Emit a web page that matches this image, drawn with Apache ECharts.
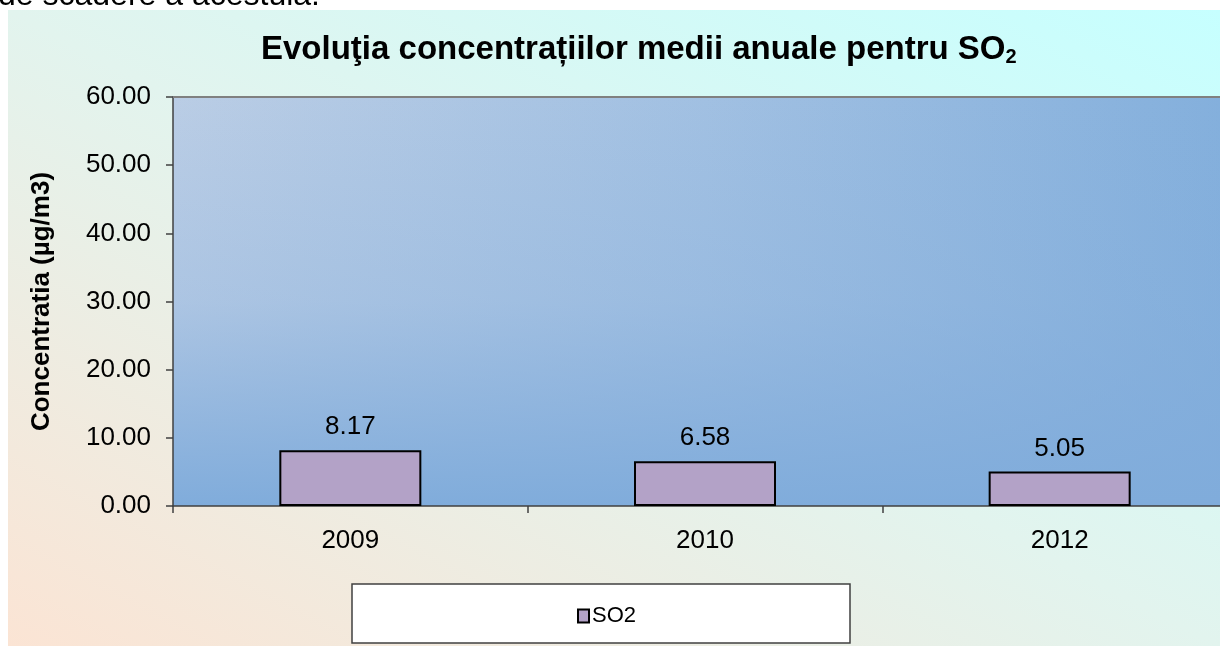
<!DOCTYPE html>
<html>
<head>
<meta charset="utf-8">
<script src="https://cdn.jsdelivr.net/npm/echarts@6/dist/echarts.min.js"></script>
<style>
html,body{margin:0;padding:0;background:#fff;}
#chart{width:1220px;height:646px;}
</style>
</head>
<body>
<div id="chart"></div>
<script>
const categories = ['2009', '2010', '2012'];
const so2Values = [8.17, 6.58, 5.05];
const seriesName = 'SO2';
const yMin = 0, yMax = 60, yInterval = 10;
const titleMain = 'Evoluţia concentrațiilor medii anuale pentru SO';
const titleSub = '2';
const yAxisTitle = 'Concentratia (µg/m3)';
const introText = 'de scadere a acestuia.';

const FONT = 'Liberation Sans, Arial, sans-serif';
const G = {left: 173, top: 97, right: -17, bottom: 140};
const gw = 1220 - G.left - G.right, gh = 646 - G.top - G.bottom;

const chart = echarts.init(document.getElementById('chart'), null, {renderer: 'canvas'});
chart.setOption({
  animation: false,
  backgroundColor: '#ffffff',
  textStyle: {fontFamily: FONT},
  graphic: [
    {type: 'rect', z: -10, silent: true,
      shape: {x: 8, y: 10, width: 1212, height: 636},
      style: {fill: {type: 'linear', global: true, x: 352, y: 827, x2: 876, y2: -171,
        colorStops: [{offset: 0, color: '#fbe4d4'}, {offset: 0.5, color: '#e2f4ee'}, {offset: 1, color: '#c6ffff'}]}}},
    {type: 'text', z: -5, silent: true, x: -2, y: 12,
      style: {text: introText, font: '32px ' + FONT, fill: '#000', verticalAlign: 'bottom'}},
    {type: 'rect', z: -1, silent: true,
      shape: {x: G.left, y: G.top, width: gw, height: gh},
      style: {fill: {type: 'linear', x: 0, y: 0, x2: 1, y2: 0,
        colorStops: [{offset: 0, color: '#bacde5'}, {offset: 0.5, color: '#a1c0e2'}, {offset: 1, color: '#83afdc'}]}}},
    {type: 'rect', z: -1, silent: true,
      shape: {x: G.left, y: G.top, width: gw, height: gh},
      style: {fill: {type: 'linear', x: 0, y: 0, x2: 0, y2: 1,
        colorStops: [{offset: 0, color: 'rgba(130,172,219,0)'}, {offset: 0.5, color: 'rgba(130,172,219,0.25)'}, {offset: 1, color: 'rgba(128,172,219,1)'}]}}},
    {type: 'line', z: 5, silent: true,
      shape: {x1: G.left, y1: G.top, x2: 1220, y2: G.top},
      style: {stroke: '#808080', lineWidth: 2}},
    {type: 'rect', z: 1, silent: true,
      shape: {x: 352, y: 584, width: 498, height: 59},
      style: {fill: '#ffffff', stroke: '#404040', lineWidth: 1.5}}
  ],
  title: {
    left: 256, top: 28,
    text: '{a|' + titleMain + '}{s|' + titleSub + '}',
    textStyle: {
      rich: {
        a: {fontFamily: FONT, fontWeight: 'bold', fontSize: 33, color: '#000'},
        s: {fontFamily: FONT, fontWeight: 'bold', fontSize: 20, color: '#000', verticalAlign: 'bottom', padding: [14, 0, 0, 0]}
      }
    }
  },
  grid: {left: G.left, top: G.top, right: G.right, bottom: G.bottom, outerBoundsMode: 'none', containLabel: false},
  legend: {
    left: 572, top: 600, z: 3,
    data: [seriesName],
    icon: 'rect', itemWidth: 11, itemHeight: 13, itemGap: 4,
    textStyle: {fontFamily: FONT, fontSize: 22, color: '#000', padding: [0, 0, 0, -2]}
  },
  xAxis: {
    type: 'category', data: categories,
    axisLine: {lineStyle: {color: '#404040', width: 1.5}},
    axisTick: {show: true, length: 7, lineStyle: {color: '#404040', width: 1.5}},
    axisLabel: {fontFamily: FONT, fontSize: 26, color: '#000', margin: 22}
  },
  yAxis: {
    type: 'value', min: yMin, max: yMax, interval: yInterval,
    name: yAxisTitle, nameLocation: 'middle', nameRotate: 90, nameGap: 118,
    nameTextStyle: {fontFamily: FONT, fontWeight: 'bold', fontSize: 26, color: '#000'},
    axisLine: {show: true, lineStyle: {color: '#404040', width: 1.5}},
    axisTick: {show: true, length: 7, lineStyle: {color: '#404040', width: 1.5}},
    splitLine: {show: false},
    axisLabel: {fontFamily: FONT, fontSize: 26, color: '#000', margin: 22,
      formatter: v => v.toFixed(2)}
  },
  series: [{
    name: seriesName, type: 'bar', data: so2Values, barWidth: 142,
    itemStyle: {color: '#b3a2c7', borderColor: '#000', borderWidth: 2},
    label: {show: true, position: 'top', distance: 10, fontFamily: FONT, fontSize: 26, color: '#000',
      formatter: p => p.value.toFixed(2)}
  }]
});
</script>
</body>
</html>
